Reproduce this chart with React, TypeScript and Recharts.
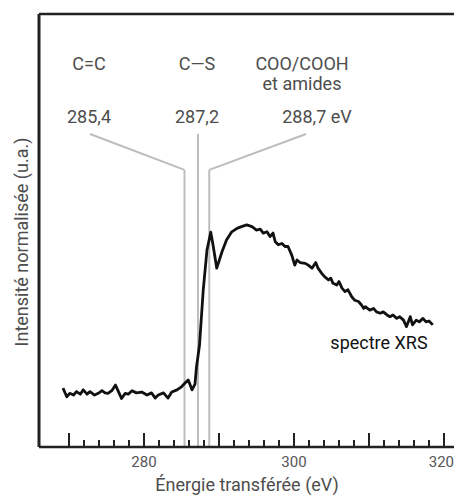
import React from 'react';
import { Customized, Line, LineChart, ReferenceLine, XAxis, YAxis } from 'recharts';

// energies (eV) and normalised intensity (u.a.)
const energy = [
	269.2, 269.7, 270.1, 270.6, 271.0, 271.5, 271.9, 272.4, 272.8, 273.4,
	273.9, 274.4, 274.8, 275.2, 275.7, 276.2, 276.7, 277.0, 277.5, 277.9,
	278.4, 279.0, 279.7, 280.4, 281.0, 281.5, 281.9, 282.6, 283.2, 283.7,
	284.4, 285.0, 285.6, 285.9, 286.4, 286.8, 287.0, 287.4, 287.9, 288.4,
	288.9, 289.2, 289.7, 290.4, 291.0, 291.7, 292.4, 293.0, 293.7, 294.4,
	295.0, 295.5, 295.9, 296.4, 296.8, 297.2, 297.5, 297.9, 298.4, 298.8,
	299.2, 299.7, 300.1, 300.4, 300.8, 301.5, 301.9, 302.4, 302.9, 303.2,
	303.7, 304.1, 304.6, 304.9, 305.2, 305.7, 306.0, 306.4, 306.8, 307.2,
	307.7, 308.1, 308.6, 309.0, 309.3, 309.5, 310.1, 310.6, 311.0, 311.5,
	311.9, 312.4, 312.8, 313.2, 313.7, 314.1, 314.6, 315.0, 315.5, 315.8,
	316.3, 316.7, 317.2, 317.6, 318.0, 318.5,
];
const intensity = [
	13.6, 11.6, 12.4, 12.0, 12.8, 12.2, 13.2, 12.2, 12.8, 12.0,
	12.4, 13.0, 12.5, 12.4, 13.0, 14.3, 12.4, 11.2, 12.4, 12.2,
	13.0, 12.5, 12.7, 12.0, 12.5, 11.3, 12.0, 12.5, 11.3, 12.7,
	13.2, 13.9, 15.0, 15.5, 13.2, 14.5, 18.5, 23.5, 36.3, 45.5,
	49.6, 46.7, 41.3, 45.1, 47.8, 49.7, 50.5, 50.9, 51.3, 50.9,
	50.1, 50.3, 49.4, 49.7, 48.6, 49.4, 47.4, 46.7, 47.0, 46.3,
	46.3, 44.3, 42.0, 43.2, 42.6, 42.4, 42.0, 41.3, 42.6, 41.3,
	40.1, 39.3, 38.6, 39.0, 37.8, 37.4, 38.2, 36.7, 35.9, 36.3,
	34.7, 33.9, 33.6, 32.8, 32.0, 32.4, 31.6, 32.0, 31.2, 30.9,
	31.2, 30.5, 30.1, 30.5, 29.7, 30.1, 29.3, 27.8, 30.1, 28.2,
	29.3, 28.9, 29.7, 28.9, 29.1, 28.2,
];

const xTicks = [
	270, 272, 274, 276, 278, 280, 282, 284, 286, 288, 290, 292, 294,
	296, 298, 300, 302, 304, 306, 308, 310, 312, 314, 316, 318, 320,
];
const majorTicks = [270, 280, 290, 300, 310, 320];
const labelledTicks = [280, 300, 320];

// assigned peaks
const peakEnergies = [285.4, 287.2, 288.7];
const peakLabels = ['285,4', '287,2', '288,7 eV'];
const bondLabels = [['C=C'], ['C\u2014S'], ['COO/COOH', 'et amides']];
const leaderEnds = [272.8, 287.2, 301.6];
const leaderTop = 72.3;
const leaderKnee = 64;

const data = energy.map((e, i) => ({ e, v: intensity[i] }));

const FONT = 'Roboto, "Noto Sans", sans-serif';
const TEXT = '#4d4d4d';
const FRAME = '#222';
const LEADER = '#bdbdbd';

const EnergyTick = (props: any) => {
	const { x, y, payload } = props;
	const v = payload.value;
	const len = majorTicks.includes(v) ? 14 : 7;
	const last = v === labelledTicks[labelledTicks.length - 1];
	return (
		<g>
			<line x1={x} x2={x} y1={y} y2={y - len} stroke={FRAME} strokeWidth={2} />
			{labelledTicks.includes(v) && (
				<text
					x={last ? 454 : x}
					y={y + 20}
					textAnchor={last ? 'end' : 'middle'}
					fontSize={15}
					fill="#555"
					fontFamily={FONT}>
					{v}
				</text>
			)}
		</g>
	);
};

const Texts = () => (
	<g fontFamily={FONT} fill={TEXT}>
		<text x={89} y={70} fontSize={18} textAnchor="middle">{bondLabels[0][0]}</text>
		<text x={197} y={70} fontSize={18} textAnchor="middle">{bondLabels[1][0]}</text>
		<text x={302} y={70} fontSize={18} textAnchor="middle">{bondLabels[2][0]}</text>
		<text x={302} y={90} fontSize={18} textAnchor="middle">{bondLabels[2][1]}</text>
		<text x={89} y={123} fontSize={18} textAnchor="middle">{peakLabels[0]}</text>
		<text x={197} y={123} fontSize={18} textAnchor="middle">{peakLabels[1]}</text>
		<text x={317} y={123} fontSize={18} textAnchor="middle">{peakLabels[2]}</text>
		<text x={379} y={349} fontSize={18} textAnchor="middle" fill="#111">spectre XRS</text>
		<text x={247} y={491} fontSize={18} textAnchor="middle">Énergie transférée (eV)</text>
		<text transform="translate(28,242) rotate(-90)" fontSize={18} textAnchor="middle">
			Intensité normalisée (u.a.)
		</text>
	</g>
);

export default function App() {
	return (
		<div style={{ position: 'fixed', top: 0, left: 0, width: 454, height: 496, overflow: 'hidden', background: '#fff' }}>
			<LineChart width={470} height={496} data={data} margin={{ top: 14, right: 11, bottom: 19, left: 39 }}>
				<XAxis
					dataKey="e"
					type="number"
					domain={[266, 322]}
					ticks={xTicks}
					interval={0}
					height={30}
					tickSize={0}
					tickMargin={0}
					tickLine={false}
					tick={<EnergyTick />}
					axisLine={{ stroke: FRAME, strokeWidth: 2.5 }}
				/>
				<YAxis hide type="number" domain={[0, 100]} />
				{peakEnergies.map((p, i) => (
					<ReferenceLine
						key={`v${i}`}
						segment={[{ x: p, y: 0 }, { x: p, y: i === 1 ? leaderTop : leaderKnee }]}
						stroke={LEADER}
						strokeWidth={2}
					/>
				))}
				{peakEnergies.map((p, i) =>
					i === 1 ? null : (
						<ReferenceLine
							key={`s${i}`}
							segment={[{ x: p, y: leaderKnee }, { x: leaderEnds[i], y: leaderTop }]}
							stroke={LEADER}
							strokeWidth={2}
						/>
					),
				)}
				<ReferenceLine x={266} stroke={FRAME} strokeWidth={3} />
				<ReferenceLine y={100} stroke={FRAME} strokeWidth={2.5} />
				<Line
					dataKey="v"
					type="linear"
					stroke="#111"
					strokeWidth={2.8}
					strokeLinejoin="round"
					dot={false}
					isAnimationActive={false}
				/>
				<Customized component={Texts} />
			</LineChart>
		</div>
	);
}
